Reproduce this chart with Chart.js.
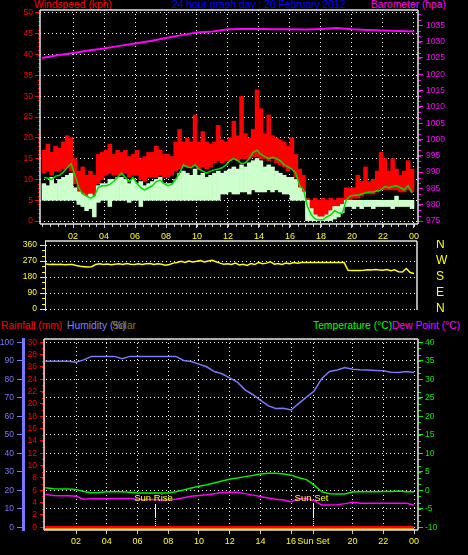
<!DOCTYPE html>
<html>
<head>
<meta charset="utf-8">
<script src="https://cdn.jsdelivr.net/npm/chart.js@4.4.1/dist/chart.umd.min.js"></script>
<style>
  html, body { margin: 0; padding: 0; background: #000; }
  #wrap { position: relative; width: 468px; height: 555px; overflow: hidden; background: #000;
          font-family: "Liberation Sans", Arial, sans-serif; }
  canvas { position: absolute; left: 0; }
  .t { position: absolute; font-size: 10.3px; line-height: 12px; white-space: nowrap; }
</style>
</head>
<body>
<div id="wrap">
  <span class="t" style="left:34px;top:-1px;color:#ff0000">Windspeed (kph)</span>
  <span class="t" style="left:172px;top:-1px;color:#0000ff">24 hour graph day : 20 February 2012</span>
  <span class="t" style="left:371px;top:-1px;color:#ff00ff">Barometer (hpa)</span>

  <span class="t" style="left:1px;top:320px;color:#ff0000">Rainfall (mm)</span>
  <span class="t" style="left:67px;top:320px;color:#8080ff">Humidity (%)</span>
  <span class="t" style="left:112px;top:320px;color:#808000">Solar</span>
  <span class="t" style="left:313px;top:320px;color:#00ff00">Temperature (°C)</span>
  <span class="t" style="left:392px;top:320px;color:#ff00ff">Dew Point (°C)</span>

  <canvas id="topChart" width="468" height="241" style="top:0"></canvas>
  <canvas id="midChart" width="468" height="78" style="top:240px"></canvas>
  <canvas id="botChart" width="468" height="225" style="top:330px"></canvas>
</div>
<script>
const FONT = '"Liberation Sans", Arial, sans-serif';
Chart.defaults.font.family = FONT;
Chart.defaults.font.size = 8.5;
Chart.defaults.animation = false;

// ---------- axis ticks ----------
const hourTicks = [2, 4, 6, 8, 10, 12, 14, 16, 18, 20, 22, 24];
const hourLabels = ['02', '04', '06', '08', '10', '12', '14', '16', '18', '20', '22', '00'];
const windTicks = [0, 5, 10, 15, 20, 25, 30, 35, 40, 45, 50];
const baroTicks = [975, 980, 985, 990, 995, 1000, 1005, 1010, 1015, 1020, 1025, 1030, 1035];
const dirTicks = [0, 90, 180, 270, 360];
const dirLetters = ['N', 'E', 'S', 'W', 'N'];
const humTicks = [0, 10, 20, 30, 40, 50, 60, 70, 80, 90, 100];
const rainTicks = [0, 2, 4, 6, 8, 10, 12, 14, 16, 18, 20, 22, 24, 26, 28, 30];
const tempTicks = [-10, -5, 0, 5, 10, 15, 20, 25, 30, 35, 40];

// ---------- time axes (hours of the day) ----------
const windTimes = Array.from({length: 96}, (_, i) => i / 4 + 0.125); // 15 min bins
const dirTimes = Array.from({length: 97}, (_, i) => i / 4);
const halfHours = Array.from({length: 49}, (_, i) => i / 2);
const dayHours = Array.from({length: 25}, (_, i) => i);

// ---------- wind (kph), one value per 15 minutes ----------
const gustHi = [
  17, 18.5, 16.5, 18,   17.5, 19, 20.5, 20,   15, 12, 13, 11,   12, 11, 16, 16.5,
  17, 18.5, 16, 17,     16.5, 17, 15.5, 16,   17, 15, 15.5, 16.5, 16.5, 18, 17, 16,
  16, 15.5, 19, 22,     19, 20, 19, 25.5,     19, 21.5, 19, 18.5, 19, 23, 19.5, 19,
  20, 24, 20.5, 30,     21, 20, 22, 31.5,     27, 21, 25.5, 20.5, 20, 19.5, 19, 18,
  20, 16, 12.5, 11,     5.5, 5, 5.5, 5,       5.5, 5, 5.5, 5,   5.5, 5.5, 8, 8,
  8, 11, 9.5, 13,       9.5, 10, 12, 16.5,    15, 12, 15, 12.5, 11, 12, 14.5, 12.5
];
const gustLo = [
  11.5, 12, 11, 12,     12, 12.5, 13, 12,     9, 7, 6, 5.5,     5.5, 6, 9, 10,
  11, 11.5, 11, 11,     11, 11.5, 10.5, 11,   11, 10, 9.5, 10.5, 10.5, 10.5, 11, 10.5,
  10.5, 11, 12, 12.5,   13, 13, 13, 13.5,     12.5, 13, 12.5, 13, 14, 14.5, 14, 14.5,
  14.5, 15, 14.5, 15,   15, 15, 15.5, 15.5,   15, 15, 14.5, 15, 14, 13.5, 13, 12,
  12.5, 10.5, 8, 7,     1, 0.5, 0, 0,         0, 0.5, 1, 2.5,   3, 3.5, 5, 5,
  5.5, 5.5, 6, 6.5,     6.5, 6.5, 7, 7.5,     7.5, 7.5, 7.5, 7.5, 7, 7, 7.5, 7
];
const windAvg = [
  10.5, 10.3, 10, 10.8, 11, 11.8, 12.8, 13.8, 11, 8, 6.5, 6,     5.5, 6, 8, 8.5,
  8.5, 8.8, 9.5, 10.5,  11.5, 10.5, 9.5, 10.5, 9, 8, 7.5, 8,     8.5, 9.5, 9.8, 9,
  8.5, 8.8, 10, 11.5,   13.5, 13, 12.8, 13.5, 12.5, 12, 11.5, 12, 12.3, 12.5, 12.8, 13.5,
  14.5, 15, 14.5, 13.8, 14, 15, 16.5, 17,     16, 15.5, 15, 15.3, 15, 14.5, 13.5, 13,
  12.5, 11.5, 8.5, 7.5, 3.5, 1.5, 0.5, 0.3,   0.3, 1, 1.5, 2.5,  2, 1.8, 5, 6,
  6.2, 6.2, 6.5, 6.8,   7, 7, 7.3, 7.5,       8.3, 8, 8.3, 8.5,  8, 7.5, 8.5, 6.8
];
const windHi = [
  9, 8.5, 10.5, 9,      10, 10.5, 11, 11.5,   8, 7, 6.5, 6,     6.5, 6, 8.5, 9,
  9, 10, 10, 10.5,      10.5, 10, 9, 10,      9, 9.5, 8.5, 9,   9.5, 10, 10.5, 9,
  9, 9, 10, 11.5,       12, 11.5, 11, 12.5,   11, 11.5, 10.5, 11, 11.5, 12, 11.5, 12,
  12.5, 13, 12.5, 13.5, 13, 14, 14.5, 15,     14.5, 13, 13.5, 13, 12, 11.5, 11, 10.5,
  10.5, 10, 8, 7,       5, 3, 1.5, 1,         1, 1.5, 2.5, 3.5, 3.5, 4, 5, 5,
  5, 5, 5, 5,           5, 5, 5, 5,           5, 5, 5, 6,       5, 5, 5, 5
];
const windLo = [
  5, 5, 5, 5,           5, 5, 5, 5,           5, 4, 3.5, 2.5,   3, 1, 4.5, 5,
  5, 3.5, 5, 5,         5, 5, 4.5, 5,         5, 3.5, 5, 5,     5, 5, 5, 5,
  5, 5, 5, 5,           5, 5, 5, 5,           5, 5, 5, 5,       5, 5, 6.5, 6.5,
  7, 6.5, 6.5, 7,       7, 6.5, 7.5, 7,       7, 7, 7.5, 7,     7.5, 7, 6.5, 6.5,
  5, 5, 5, 5,           0, 0, 0, 0,           0, 0, 0, 0.5,     1, 2, 3.5, 3.5,
  3, 3.5, 3, 3.5,       3.5, 3, 3.5, 3.5,     3.5, 3.5, 3, 3.5, 3.5, 3.5, 3.5, 3
];

// ---------- barometer (hPa), hourly ----------
const baro = [
  1025.0, 1025.8, 1026.5, 1027.3, 1027.9, 1028.7, 1029.4, 1030.2, 1031.1, 1032.0,
  1032.8, 1033.1, 1033.8, 1033.9, 1033.9, 1033.8, 1033.8, 1033.7, 1033.9, 1034.2,
  1033.8, 1033.6, 1033.4, 1033.3, 1033.1
];

// ---------- wind direction (deg), every 15 minutes ----------
const windDir = [
  262, 255, 250, 252,  250, 252, 249, 251,  250, 245, 240, 238,  236, 238, 250, 254,
  250, 253, 249, 252,  254, 250, 256, 252,  250, 255, 251, 254,  256, 250, 255, 252,
  246, 250, 258, 262,  268, 262, 270, 265,  268, 272, 264, 270,  274, 266, 258, 252,
  255, 250, 258, 248,  252, 245, 256, 250,  262, 254, 258, 266,  252, 256, 250, 258,
  255, 262, 258, 261,  261, 261, 261, 261,  261, 261, 261, 261,  261, 261, 261, 218,
  217, 217, 217, 218,  221, 219, 222, 220,  218, 222, 215, 220,  210, 208, 228, 205,
  200
];

// ---------- humidity (%), temperature and dew point (°C), every 30 minutes ----------
const humidity = [
  89.8, 89.8, 89.8, 89.8, 89.3, 90.5, 92.4, 92.4, 92.4, 92.4, 91.2, 92.4,
  92.4, 92.4, 92.4, 92.4, 92.4, 92.4, 90.2, 89.6, 88.2, 86.8, 84.2, 83.0,
  80.8, 78.5, 74.3, 71.8, 68.8, 65.8, 64.2, 64.3, 63.4, 67.0, 70.4, 73.7,
  80.5, 84.2, 85.0, 86.4, 85.5, 85.2, 85.0, 84.8, 84.6, 83.8, 83.7, 84.2, 83.7
];
const temperature = [
  0.7, 0.4, 0.35, 0.35, 0.2, -0.3, -0.65, -0.6, -0.4, -0.4, -0.4, -0.5,
  -0.7, -0.7, -0.7, -0.7, -0.7, -0.4, 0.1, 0.6, 1.1, 1.5, 2.0, 2.5,
  3.0, 3.3, 3.7, 4.0, 4.4, 4.6, 4.6, 4.4, 4.1, 3.4, 2.9, 1.4,
  -0.4, -0.9, -1.0, -1.0, -0.45, -0.4, -0.4, -0.4, -0.3, -0.3, -0.2, -0.4, -0.4
];
const dewPoint = [
  -1.1, -1.4, -1.5, -1.5, -1.6, -2.4, -2.3, -2.3, -2.3, -2.2, -2.2, -2.2,
  -2.5, -2.5, -2.5, -2.6, -2.6, -2.4, -2.0, -1.6, -1.4, -1.2, -0.9, -0.6,
  -0.5, -0.5, -0.9, -1.3, -1.7, -2.1, -2.4, -2.6, -3.1, -2.3, -2.2, -2.8,
  -4.0, -4.0, -3.9, -3.6, -3.2, -3.5, -3.5, -3.5, -3.5, -3.5, -3.5, -3.5, -4.0
];
// rainfall (mm) and solar, hourly
const rainfall = [0, 0, 0, 0, 0, 0, 0, 0, 0, 0, 0, 0, 0, 0, 0, 0, 0, 0, 0, 0, 0, 0, 0, 0, 0];
const solar = [0, 0, 0, 0, 0, 0, 0, 0, 0, 0, 0, 0, 0, 0, 0, 0, 0, 0, 0, 0, 0, 0, 0, 0, 0];

// sun rise / sun set (hours)
const sunTimes = [7.13, 17.45];
const sunLabels = ['Sun Rise', 'Sun Set'];
const botTicks = [2, 4, 6, 8, 10, 12, 14, 16, 17.45, 20, 22, 24];
const botLabels = ['02', '04', '06', '08', '10', '12', '14', '16', 'Sun Set', '20', '22', '00'];

// ---------- helpers ----------
const pts = (xs, ys) => ys.map((y, i) => ({x: xs[i], y: y}));
const ranges = (xs, lo, hi) => xs.map((x, i) => ({x: x, y: [lo[i], hi[i]]}));
const fixedTicks = vals => scale => { scale.ticks = vals.map(v => ({value: v})); };
const dotted = [1, 3];
// fixed axis width, and labels may hang over the plot edge without pushing it in
const fitW = w => s => { s.width = w; s.paddingTop = 0; s.paddingBottom = 0; };
const fitH = h => s => { s.height = h; s.paddingLeft = 0; s.paddingRight = 0; };

// small ticks between the labelled ones
function minorTicks(specs) {
  return {
    id: 'minorTicks',
    afterDraw(chart) {
      const ctx = chart.ctx;
      specs.forEach(sp => {
        const s = chart.scales[sp.id];
        ctx.save();
        ctx.strokeStyle = sp.color;
        ctx.lineWidth = 1;
        ctx.beginPath();
        const first = Math.ceil(s.min / sp.step) * sp.step;
        for (let v = first; v <= s.max + 1e-9; v += sp.step) {
          const p = Math.round(s.getPixelForValue(v)) + 0.5;
          if (s.isHorizontal()) {
            ctx.moveTo(p, s.top); ctx.lineTo(p, s.top + sp.len);
          } else if (s.position === 'left') {
            ctx.moveTo(s.right - sp.len, p); ctx.lineTo(s.right, p);
          } else {
            ctx.moveTo(s.left, p); ctx.lineTo(s.left + sp.len, p);
          }
        }
        ctx.stroke();
        ctx.restore();
      });
    }
  };
}

// light frame round the plot area
function frame(sides) {
  return {
    id: 'frame',
    afterDraw(chart) {
      const {ctx, chartArea: a} = chart;
      ctx.save();
      ctx.strokeStyle = '#e4e4e4';
      ctx.lineWidth = 1.5;
      ctx.beginPath();
      if (sides.includes('t')) { ctx.moveTo(a.left, a.top); ctx.lineTo(a.right, a.top); }
      if (sides.includes('r')) { ctx.moveTo(a.right, a.top); ctx.lineTo(a.right, a.bottom); }
      if (sides.includes('b')) { ctx.moveTo(a.left, a.bottom); ctx.lineTo(a.right, a.bottom); }
      if (sides.includes('l')) { ctx.moveTo(a.left, a.top); ctx.lineTo(a.left, a.bottom); }
      ctx.stroke();
      ctx.restore();
    }
  };
}

const sunMarks = {
  id: 'sunMarks',
  afterDatasetsDraw(chart) {
    const {ctx, chartArea: a} = chart;
    const x = chart.scales.x;
    sunTimes.forEach((t, i) => {
      const px = Math.round(x.getPixelForValue(t)) + 0.5;
      ctx.save();
      ctx.lineWidth = 1;
      ctx.strokeStyle = '#ffffff';
      ctx.beginPath(); ctx.moveTo(px, a.bottom - 26); ctx.lineTo(px, a.bottom - 13); ctx.stroke();
      ctx.strokeStyle = '#ffff00';
      ctx.setLineDash([1, 1]);
      ctx.beginPath(); ctx.moveTo(px, a.bottom - 13); ctx.lineTo(px, a.bottom - 3); ctx.stroke();
      ctx.setLineDash([]);
      ctx.fillStyle = '#ffff00';
      ctx.font = '9.5px ' + FONT;
      ctx.textAlign = 'center';
      ctx.textBaseline = 'middle';
      ctx.fillText(sunLabels[i], px - 2, a.bottom - 32);
      ctx.restore();
    });
  }
};

const common = {
  responsive: false,
  animation: false,
  events: [],
  plugins: { legend: { display: false }, tooltip: { enabled: false } }
};

// ---------- top: wind speed and barometer ----------
new Chart(document.getElementById('topChart'), {
  type: 'line',
  data: {
    datasets: [
      { label: 'Barometer', data: pts(dayHours, baro), yAxisID: 'yBaro',
        borderColor: '#ff00ff', borderWidth: 2, pointRadius: 0, order: 0 },
      { label: 'Wind Speed Average', data: pts(windTimes, windAvg), yAxisID: 'yWind',
        borderColor: '#00dd00', borderWidth: 1.5, pointRadius: 0, order: 1 },
      { type: 'bar', label: 'Wind Speed', data: ranges(windTimes, windLo, windHi), yAxisID: 'yWind',
        backgroundColor: '#ccffcc', grouped: false, categoryPercentage: 1, barPercentage: 1, order: 2 },
      { type: 'bar', label: 'Gust', data: ranges(windTimes, gustLo, gustHi), yAxisID: 'yWind',
        backgroundColor: '#ff0000', grouped: false, categoryPercentage: 1, barPercentage: 1, order: 3 }
    ]
  },
  options: {
    ...common,
    layout: { padding: { top: 10, left: 0, right: 0, bottom: 0 } },
    scales: {
      x: {
        type: 'linear', min: -0.13, max: 24.26, offset: false,
        afterBuildTicks: fixedTicks(hourTicks),
        afterFit: fitH(17),
        ticks: { color: '#ffff00', font: { size: 9 }, padding: 3, maxRotation: 0, autoSkip: false,
                 callback: (v, i) => hourLabels[i] },
        grid: { color: '#ffffff', offset: false, tickColor: '#cccccc', tickLength: 4 },
        border: { display: false, dash: dotted }
      },
      yWind: {
        position: 'left', min: -0.7, max: 50.7,
        afterBuildTicks: fixedTicks(windTicks),
        afterFit: fitW(40),
        ticks: { color: '#ff0000', padding: 2, autoSkip: false },
        grid: { color: '#ffffff', tickColor: '#ff0000', tickLength: 5 },
        border: { display: false, dash: dotted }
      },
      yBaro: {
        position: 'right', min: 974.1, max: 1039.7,
        afterBuildTicks: fixedTicks(baroTicks),
        afterFit: fitW(50),
        ticks: { color: '#ff00ff', padding: 3, autoSkip: false, callback: v => String(v) },
        grid: { drawOnChartArea: false, tickColor: '#ff00ff', tickLength: 5 },
        border: { display: false }
      }
    }
  },
  plugins: [
    minorTicks([
      { id: 'yWind', step: 1, len: 2, color: '#ff0000' },
      { id: 'yBaro', step: 5 / 3, len: 3, color: '#ff00ff' },
      { id: 'x', step: 0.5, len: 3, color: '#cccccc' }
    ]),
    frame('trbl')
  ]
});

// ---------- middle: wind direction ----------
new Chart(document.getElementById('midChart'), {
  type: 'line',
  data: {
    datasets: [
      { label: 'Wind Direction', data: pts(dirTimes, windDir), yAxisID: 'yDir',
        borderColor: '#ffff00', borderWidth: 1.5, pointRadius: 0 }
    ]
  },
  options: {
    ...common,
    layout: { padding: { top: 1, left: 0, right: 0, bottom: 8 } },
    scales: {
      x: { type: 'linear', min: 0.24, max: 24.19, display: false },
      yDir: {
        position: 'left', min: -5.6, max: 382.5,
        afterBuildTicks: fixedTicks(dirTicks),
        afterFit: fitW(45),
        ticks: { color: '#ffff00', padding: 3, autoSkip: false },
        grid: { color: '#ffffff', tickColor: '#ffff00', tickLength: 5 },
        border: { display: true, color: '#ffff00', width: 1, dash: dotted }
      },
      yDirName: {
        position: 'right', min: -5.6, max: 382.5,
        afterBuildTicks: fixedTicks(dirTicks),
        afterFit: fitW(51),
        ticks: { color: '#ffff00', font: { size: 12 }, padding: 0, autoSkip: false,
                 callback: (v, i) => dirLetters[i] },
        grid: { drawOnChartArea: false, tickColor: 'rgba(0,0,0,0)', tickLength: 19 },
        border: { display: false }
      }
    }
  },
  plugins: [minorTicks([{ id: 'yDir', step: 30, len: 3, color: '#ffff00' }]), frame('tr')]
});

// ---------- bottom: rain, humidity, solar, temperature, dew point ----------
new Chart(document.getElementById('botChart'), {
  type: 'line',
  data: {
    datasets: [
      { label: 'Solar', data: pts(dayHours, solar), yAxisID: 'ySolar',
        borderColor: '#ffff00', borderWidth: 2, pointRadius: 0, order: 4 },
      { label: 'Rainfall', data: pts(dayHours, rainfall), yAxisID: 'yRain',
        borderColor: '#ff0000', borderWidth: 2.5, pointRadius: 0, order: 3 },
      { label: 'Humidity', data: pts(halfHours, humidity), yAxisID: 'yHum',
        borderColor: '#7878ff', borderWidth: 1.5, pointRadius: 0, order: 2 },
      { label: 'Dew Point', data: pts(halfHours, dewPoint), yAxisID: 'yTemp',
        borderColor: '#ff00ff', borderWidth: 1.5, pointRadius: 0, order: 1 },
      { label: 'Temperature', data: pts(halfHours, temperature), yAxisID: 'yTemp',
        borderColor: '#00ee00', borderWidth: 1.5, pointRadius: 0, order: 0 }
    ]
  },
  options: {
    ...common,
    layout: { padding: { top: 9, left: 0, right: 0, bottom: 0 } },
    scales: {
      x: {
        type: 'linear', min: -0.085, max: 24.26, offset: false,
        afterBuildTicks: fixedTicks(botTicks),
        afterFit: fitH(25),
        ticks: { color: '#ffff00', font: { size: 9 }, padding: 2, maxRotation: 0, autoSkip: false,
                 callback: (v, i) => botLabels[i] },
        grid: { color: '#ffffff', offset: false, tickColor: '#cccccc', tickLength: 4 },
        border: { display: false, dash: dotted }
      },
      yHum: {
        position: 'left', weight: 1, min: -1.46, max: 101.8,
        afterBuildTicks: fixedTicks(humTicks),
        afterFit: fitW(23),
        ticks: { color: '#7878ff', padding: 3, autoSkip: false },
        grid: { color: '#ffffff', tickColor: '#7878ff', tickLength: 6 },
        border: { display: true, color: '#7878ff', width: 3, dash: dotted }
      },
      yRain: {
        position: 'left', weight: 0, min: -0.438, max: 30.535,
        afterBuildTicks: fixedTicks(rainTicks),
        afterFit: fitW(21),
        ticks: { color: '#ff0000', padding: 3, autoSkip: false },
        grid: { drawOnChartArea: false, tickColor: '#ff0000', tickLength: 4 },
        border: { display: true, color: '#ff0000', width: 1 }
      },
      yTemp: {
        position: 'right', min: -10.73, max: 40.9,
        afterBuildTicks: fixedTicks(tempTicks),
        afterFit: fitW(50),
        ticks: { color: '#00ee00', padding: 2, autoSkip: false },
        grid: { drawOnChartArea: false, tickColor: '#00ee00', tickLength: 5 },
        border: { display: false }
      },
      ySolar: { display: false, min: -1, max: 190 }
    }
  },
  plugins: [
    minorTicks([
      { id: 'yRain', step: 1, len: 2, color: '#ff0000' },
      { id: 'yTemp', step: 5 / 3, len: 3, color: '#00ee00' }
    ]),
    frame('trbl'),
    sunMarks
  ]
});
</script>
</body>
</html>
